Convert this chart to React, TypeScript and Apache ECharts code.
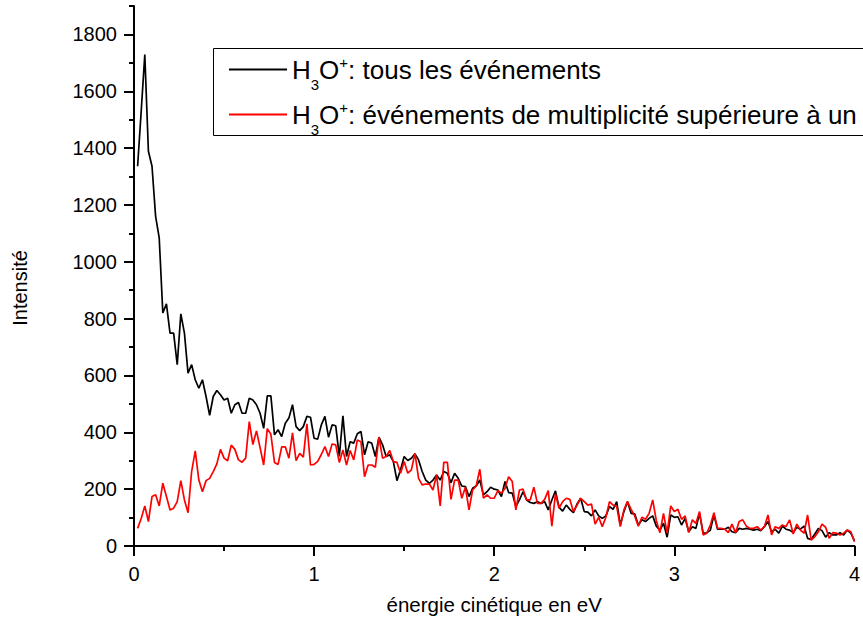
import { useEffect, useRef } from 'react';
import * as echarts from 'echarts';

const ENERGY_STEP = 0.02;

const allEvents = [
  1336, 1530, 1729, 1389, 1336, 1160, 1084, 820, 852, 749,
  749, 638, 817, 749, 608, 638, 585, 555, 585, 526,
  460, 526, 547, 532, 514,
  520, 467, 497, 505, 467, 467, 520, 514, 497, 467,
  414, 528, 528, 391, 409, 385, 432, 450, 497, 420,
  406, 420, 456, 453, 379, 376, 426,
  456, 383, 426, 423, 315, 458, 315, 367, 362, 395,
  403, 321, 367, 362, 315, 383, 356, 315, 321, 297,
  230, 268, 315, 301, 309, 324, 303, 262, 232, 220,
  232, 250, 232, 262, 256, 223, 256, 238, 211, 209,
  174, 203, 211, 232, 180, 191, 207, 200, 197, 174,
  227, 188, 186, 139, 162, 191, 162, 153, 150, 156,
  150, 156, 127, 162, 194,
  136, 123, 144, 129, 117, 148, 168, 121, 119, 106,
  127, 106, 97, 106, 139, 129, 156, 74, 121, 156,
  115, 113, 74, 92, 86, 97, 106, 70, 56, 80,
  31, 109, 101, 103, 74, 97, 50, 68, 62, 115,
  45, 46,
  56, 109, 59, 59, 59, 66, 50, 47, 62, 59,
  62, 59, 56, 59, 54, 68, 86, 50, 59, 45,
  70, 59, 56, 47, 66, 59, 70, 27, 23, 42,
  62, 54, 31, 47, 39, 39, 47, 39, 56, 45,
  19,
];

const multiEvents = [
  62, 97, 141, 86, 174, 180, 141, 221, 174, 127,
  133, 156, 230, 162, 117, 262, 335, 232, 191, 230,
  238, 262, 289, 340, 309, 300, 355, 340, 303, 295,
  309, 438, 357, 405, 346, 285, 413, 393, 294, 287,
  349, 349, 309, 398, 300, 326, 313, 430, 285, 287,
  298, 322,
  350, 315, 359, 356, 294, 338, 285, 336, 303, 373,
  367, 244, 285, 285, 277, 383, 309, 315, 336, 297,
  294, 256, 297, 256, 268, 326, 238, 215, 218, 218,
  197, 250, 141, 294, 294, 164, 232, 232, 168, 207,
  127, 197, 211, 270, 168, 180, 168, 168, 195, 186,
  203, 244, 227, 127, 197, 200, 162, 162, 207, 150,
  150, 164, 195, 70, 183,
  133, 156, 168, 164, 121, 144, 168, 156, 144, 148,
  77, 101, 68, 101, 156, 144, 139, 68, 127, 156,
  129, 106, 70, 101, 94, 115, 162, 89, 47, 115,
  45, 141, 121, 129, 94, 106, 47, 92, 80, 121,
  39, 45,
  74, 117, 62, 62, 59, 47, 77, 47, 86, 92,
  70, 62, 62, 68, 56, 68, 109, 39, 68, 62,
  74, 68, 92, 42, 77, 56, 45, 109, 21, 33,
  50, 77, 66, 27, 47, 45, 39, 45, 56, 50,
  15,
];

const seriesNames = [
  'H3O+: tous les événements',
  'H3O+: événements de multiplicité supérieure à un',
];
const legendSuffixes = [': tous les événements', ': événements de multiplicité supérieure à un'];
const yMajorTicks = [0, 200, 400, 600, 800, 1000, 1200, 1400, 1600, 1800];
const yMinorTicks = [100, 300, 500, 700, 900, 1100, 1300, 1500, 1700, 1900];
const xAxisTitle = 'énergie cinétique en eV';
const yAxisTitle = 'Intensité';

const FONT = "'Liberation Sans', Arial, sans-serif";

export default function App() {
  const ref = useRef<HTMLDivElement>(null);
  useEffect(() => {
    const chart = echarts.init(ref.current!, null, { renderer: 'svg' });
    const toPairs = (arr: number[]) =>
      arr.map((v, i) => [Number((ENERGY_STEP * (i + 1)).toFixed(2)), v]);
    const axisColor = '#000';
    const LH = 45;
    chart.setOption({
      animation: false,
      backgroundColor: '#fff',
      grid: { left: 134, right: 5, top: 6, bottom: 85 },
      xAxis: {
        type: 'value',
        min: 0,
        max: 4,
        interval: 1,
        axisLine: { lineStyle: { color: axisColor, width: 2 } },
        axisTick: { length: 10, lineStyle: { color: axisColor, width: 2 } },
        minorTick: { show: true, splitNumber: 2, length: 5, lineStyle: { color: axisColor, width: 2 } },
        splitLine: { show: false },
        minorSplitLine: { show: false },
        axisLabel: { color: '#000', fontSize: 20, fontFamily: FONT, margin: 18, formatter: (v: number) => String(v) },
        name: xAxisTitle,
        nameLocation: 'middle',
        nameGap: 48,
        nameTextStyle: { color: '#000', fontSize: 20.5, fontFamily: FONT },
      },
      yAxis: [
        {
          type: 'value',
          min: 0,
          max: 1900,
          interval: 100,
          axisLine: { lineStyle: { color: axisColor, width: 2 } },
          axisTick: { length: 10, customValues: yMajorTicks, lineStyle: { color: axisColor, width: 2 } },
          splitLine: { show: false },
          axisLabel: {
            color: '#000',
            fontSize: 20,
            fontFamily: FONT,
            margin: 17,
            customValues: yMajorTicks,
            formatter: (v: number) => String(v),
          },
          name: yAxisTitle,
          nameLocation: 'middle',
          nameGap: 104,
          nameTextStyle: { color: '#000', fontSize: 20, fontFamily: FONT, padding: [0, 24, 0, 0] },
        },
        {
          type: 'value',
          min: 0,
          max: 1900,
          interval: 100,
          position: 'left',
          axisLine: { show: false },
          axisTick: { show: true, length: 5, customValues: yMinorTicks, lineStyle: { color: axisColor, width: 2 } },
          axisLabel: { show: false },
          splitLine: { show: false },
        },
      ],
      legend: {
        orient: 'vertical',
        left: 229,
        top: 47,
        padding: 0,
        itemGap: 0,
        itemWidth: 58,
        itemHeight: 2,
        data: seriesNames.map((n) => ({ name: n, icon: 'rect' })),
        formatter: (name: string) => {
          const idx = seriesNames.indexOf(name);
          return '{t|H}{sub|3}{t|O}{sup|+}{t|' + legendSuffixes[idx] + '}';
        },
        textStyle: {
          color: '#000',
          fontSize: 26,
          fontFamily: FONT,
          rich: {
            t: { color: '#000', fontSize: 26, fontFamily: FONT, lineHeight: LH, verticalAlign: 'middle' },
            sub: { color: '#000', fontSize: 15, fontFamily: FONT, lineHeight: LH, verticalAlign: 'bottom' },
            sup: {
              color: '#000',
              fontSize: 15,
              fontFamily: FONT,
              lineHeight: LH,
              verticalAlign: 'top',
              padding: [8, 0, 0, 0],
            },
          },
        },
      },
      graphic: [
        {
          type: 'rect',
          silent: true,
          shape: { x: 213.5, y: 48.5, width: 700, height: 87 },
          style: { fill: 'none', stroke: '#000', lineWidth: 1 },
          z: 1,
        },
      ],
      series: [
        {
          name: seriesNames[0],
          type: 'line',
          data: toPairs(allEvents),
          symbol: 'none',
          lineStyle: { color: '#000', width: 1.7 },
          itemStyle: { color: '#000' },
        },
        {
          name: seriesNames[1],
          type: 'line',
          data: toPairs(multiEvents),
          symbol: 'none',
          lineStyle: { color: '#ff0000', width: 1.7 },
          itemStyle: { color: '#ff0000' },
        },
      ],
    });
    return () => chart.dispose();
  }, []);
  return (
    <div
      ref={ref}
      style={{ position: 'fixed', left: 0, top: 0, width: 863, height: 631 }}
    />
  );
}
